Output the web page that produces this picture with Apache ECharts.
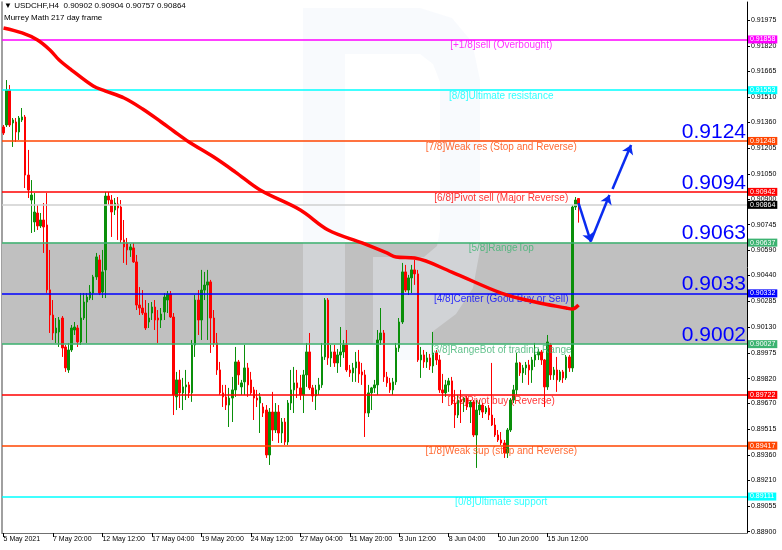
<!DOCTYPE html>
<html><head><meta charset="utf-8">
<script src="https://cdn.jsdelivr.net/npm/echarts@6/dist/echarts.min.js"></script>
<style>html,body{margin:0;padding:0;background:#fff}#c{width:782px;height:550px}</style>
</head><body><div id="c"></div><script>
const symbolName = 'USDCHF,H4';
const subTitle = 'Murrey Math 217 day frame';
const slotCount = 241;      // bars + empty future space
const tickEvery = 16;
const xTickLabels = ['5 May 2021','7 May 20:00','12 May 12:00','17 May 04:00','19 May 20:00','24 May 12:00','27 May 04:00','31 May 20:00','3 Jun 12:00','8 Jun 04:00','10 Jun 20:00','15 Jun 12:00'];
const yTickValues = [0.91975,0.91820,0.91665,0.91510,0.91360,0.91205,0.91050,0.90900,0.90745,0.90590,0.90440,0.90285,0.90130,0.89975,0.89820,0.89670,0.89515,0.89360,0.89210,0.89055,0.88900];
const yMin = 0.88892, yMax = 0.92083;

// [open, close, low, high]
const candles = [
[0.91332,0.91296,0.91284,0.91344],[0.91344,0.91554,0.91332,0.91614],[0.91554,0.91344,0.91332,0.91584],[0.91356,0.91374,0.91212,0.91386],
[0.91362,0.91302,0.91242,0.91386],[0.91302,0.91386,0.91254,0.91398],[0.91374,0.91392,0.91362,0.91446],[0.91392,0.91043,0.90965,0.91404],
[0.91043,0.90953,0.90905,0.91194],[0.90893,0.90923,0.90695,0.91013],[0.90761,0.90821,0.90701,0.90935],[0.90815,0.90737,0.90713,0.90863],
[0.90737,0.90773,0.90725,0.90815],[0.90773,0.90731,0.90575,0.90875],[0.90743,0.90353,0.90335,0.90935],[0.90353,0.90202,0.90094,0.90593],
[0.90202,0.90094,0.90052,0.90292],[0.90094,0.90124,0.90034,0.90184],[0.90100,0.90172,0.90010,0.90190],[0.90184,0.90004,0.89950,0.90196],
[0.90010,0.89884,0.89860,0.90022],[0.89872,0.89992,0.89854,0.90034],[0.89992,0.90124,0.89980,0.90142],[0.90112,0.90130,0.90082,0.90160],
[0.90124,0.90040,0.90010,0.90142],[0.90040,0.90184,0.90022,0.90334],[0.90184,0.90280,0.90172,0.90334],[0.90280,0.90310,0.90034,0.90334],
[0.90304,0.90340,0.90292,0.90382],[0.90334,0.90431,0.90292,0.90443],[0.90431,0.90551,0.90413,0.90575],[0.90533,0.90334,0.90322,0.90563],
[0.90340,0.90461,0.90304,0.90593],[0.90473,0.90917,0.90304,0.90941],[0.90917,0.90893,0.90863,0.90941],[0.90893,0.90821,0.90671,0.90923],
[0.90833,0.90875,0.90803,0.90905],[0.90869,0.90845,0.90653,0.90911],[0.90851,0.90653,0.90635,0.90893],[0.90653,0.90611,0.90515,0.90773],
[0.90635,0.90593,0.90503,0.90665],[0.90593,0.90611,0.90551,0.90629],[0.90605,0.90521,0.90515,0.90635],[0.90521,0.90262,0.90232,0.90563],
[0.90262,0.90244,0.90202,0.90370],[0.90244,0.90214,0.90202,0.90352],[0.90214,0.90124,0.90112,0.90292],[0.90160,0.90184,0.90124,0.90274],
[0.90214,0.90250,0.90172,0.90280],[0.90250,0.90172,0.90112,0.90292],[0.90184,0.90172,0.90034,0.90232],[0.90172,0.90208,0.90124,0.90244],
[0.90220,0.90310,0.90172,0.90334],[0.90292,0.90328,0.90214,0.90346],[0.90328,0.90190,0.90184,0.90346],[0.90190,0.89722,0.89601,0.90214],
[0.89710,0.89812,0.89631,0.89860],[0.89812,0.89734,0.89643,0.89872],[0.89734,0.89770,0.89631,0.89824],[0.89770,0.89782,0.89691,0.89872],
[0.89782,0.89734,0.89703,0.89800],[0.89734,0.90022,0.89680,0.90052],[0.90022,0.90292,0.89950,0.90322],[0.90292,0.90172,0.90082,0.90352],
[0.90172,0.90352,0.90052,0.90473],[0.90352,0.90382,0.90292,0.90461],[0.90382,0.90401,0.90052,0.90473],[0.90401,0.90184,0.89974,0.90413],
[0.90184,0.90034,0.90010,0.90232],[0.90034,0.89872,0.89842,0.90094],[0.89872,0.89734,0.89722,0.89920],[0.89734,0.89710,0.89649,0.89782],
[0.89710,0.89661,0.89631,0.89782],[0.89661,0.89703,0.89529,0.89764],[0.89703,0.89752,0.89559,0.89830],[0.89752,0.89920,0.89710,0.90010],
[0.89920,0.89842,0.89782,0.89932],[0.89770,0.89794,0.89722,0.89812],[0.89800,0.89884,0.89722,0.90022],[0.89884,0.89782,0.89710,0.89914],
[0.89812,0.89734,0.89722,0.89860],[0.89752,0.89703,0.89571,0.89770],[0.89703,0.89691,0.89649,0.89752],[0.89673,0.89710,0.89493,0.89734],
[0.89649,0.89613,0.89589,0.89673],[0.89631,0.89361,0.89343,0.89661],[0.89361,0.89619,0.89301,0.89643],[0.89619,0.89511,0.89445,0.89740],
[0.89511,0.89619,0.89493,0.89673],[0.89619,0.89493,0.89433,0.89661],[0.89493,0.89559,0.89433,0.89583],[0.89559,0.89439,0.89421,0.89583],
[0.89439,0.89673,0.89421,0.89691],[0.89673,0.89752,0.89631,0.89872],[0.89752,0.89794,0.89613,0.89890],[0.89794,0.89764,0.89703,0.89872],
[0.89764,0.89722,0.89691,0.89842],[0.89722,0.89842,0.89613,0.89872],[0.89842,0.89980,0.89770,0.90034],[0.89980,0.89764,0.89752,0.90094],
[0.89764,0.89716,0.89680,0.89782],[0.89716,0.89752,0.89631,0.89782],[0.89752,0.89782,0.89722,0.89824],[0.89782,0.89950,0.89764,0.90034],
[0.89950,0.90292,0.89932,0.90304],[0.90292,0.89944,0.89902,0.90304],[0.89944,0.89980,0.89890,0.90022],[0.89980,0.89914,0.89890,0.90022],
[0.89914,0.89962,0.89854,0.89998],[0.89962,0.89980,0.89890,0.90130],[0.89980,0.90022,0.89944,0.90052],[0.90022,0.89872,0.89860,0.90112],
[0.89872,0.89854,0.89830,0.89902],[0.89854,0.89884,0.89800,0.89914],[0.89884,0.89920,0.89800,0.89980],[0.89920,0.89848,0.89794,0.89992],
[0.89860,0.89842,0.89782,0.89914],[0.89842,0.89613,0.89469,0.89872],[0.89613,0.89734,0.89589,0.89782],[0.89734,0.89764,0.89631,0.89770],
[0.89764,0.89782,0.89734,0.89812],[0.89782,0.90052,0.89722,0.90112],[0.90052,0.90094,0.90022,0.90244],[0.90094,0.89830,0.89800,0.90112],
[0.89830,0.89794,0.89770,0.89860],[0.89794,0.89752,0.89734,0.89824],[0.89752,0.89800,0.89722,0.89824],[0.89800,0.90004,0.89782,0.90034],
[0.90004,0.90160,0.89980,0.90184],[0.90160,0.90461,0.90148,0.90515],[0.90461,0.90352,0.90340,0.90503],[0.90352,0.90425,0.90322,0.90443],
[0.90425,0.90473,0.90334,0.90503],[0.90473,0.90449,0.90383,0.90533],[0.90449,0.89932,0.89920,0.90473],[0.89932,0.89962,0.89824,0.90010],
[0.89962,0.89920,0.89884,0.89992],[0.89920,0.89944,0.89884,0.89980],[0.89944,0.89896,0.89872,0.89968],[0.89896,0.89974,0.89854,0.90100],
[0.89974,0.89932,0.89902,0.89992],[0.89932,0.89752,0.89734,0.89962],[0.89752,0.89734,0.89673,0.89848],[0.89734,0.89782,0.89710,0.89812],
[0.89782,0.89806,0.89740,0.89824],[0.89806,0.89673,0.89661,0.89830],[0.89673,0.89601,0.89523,0.89752],[0.89601,0.89691,0.89583,0.89722],
[0.89691,0.89679,0.89553,0.89752],[0.89679,0.89703,0.89619,0.89710],[0.89703,0.89649,0.89631,0.89715],[0.89649,0.89679,0.89553,0.89691],
[0.89679,0.89481,0.89469,0.89691],[0.89481,0.89631,0.89283,0.89691],[0.89631,0.89661,0.89601,0.89691],[0.89661,0.89619,0.89583,0.89673],
[0.89619,0.89643,0.89607,0.89655],[0.89643,0.89601,0.89571,0.89661],[0.89601,0.89541,0.89535,0.89914],[0.89541,0.89481,0.89469,0.89583],
[0.89481,0.89451,0.89439,0.89511],[0.89451,0.89433,0.89421,0.89499],[0.89433,0.89373,0.89343,0.89451],[0.89373,0.89511,0.89343,0.89523],
[0.89511,0.89691,0.89499,0.89703],[0.89691,0.89752,0.89673,0.89782],[0.89752,0.89914,0.89722,0.89974],[0.89914,0.89854,0.89836,0.89920],
[0.89854,0.89884,0.89794,0.89902],[0.89884,0.89902,0.89842,0.89920],[0.89902,0.89872,0.89782,0.89932],[0.89872,0.89932,0.89794,0.89950],
[0.89932,0.89962,0.89890,0.90034],[0.89962,0.89980,0.89932,0.89998],[0.89980,0.89932,0.89902,0.89992],[0.89932,0.89770,0.89649,0.89938],
[0.89770,0.90040,0.89752,0.90082],[0.90022,0.89842,0.89812,0.90034],[0.89842,0.89872,0.89812,0.89890],[0.89872,0.89812,0.89740,0.89950],
[0.89812,0.89860,0.89800,0.89872],[0.89860,0.89824,0.89794,0.89872],[0.89824,0.89950,0.89812,0.89962],[0.89950,0.89884,0.89860,0.89962],
[0.89884,0.90851,0.89860,0.90863],[0.90851,0.90893,0.90833,0.90911],[0.90902,0.90864,0.90757,0.90904]
];

// moving average trace: [bar index, price]
const maPoints = [[0,0.91927],[6,0.91897],[11,0.91855],[15,0.91795],[18,0.91734],[22,0.91674],[29,0.91578],[33,0.91548],[39,0.91506],[45,0.91440],[51,0.91362],[55,0.91308],[60,0.91242],[68,0.91151],[75,0.91061],[83,0.90953],[96,0.90833],[105,0.90713],[116,0.90635],[124,0.90575],[127,0.90550],[133,0.90544],[145,0.90460],[161,0.90334],[172,0.90280],[182,0.90244],[184,0.90238],[186,0.90262]];

const levelValues = [0.91858,0.91553,0.91248,0.90942,0.90637,0.90332,0.90027,0.89722,0.89417,0.89111];
const levelNames = ['[+1/8]sell (Overbought)','[8/8]Ultimate resistance','[7/8]Weak res (Stop and Reverse)','[6/8]Pivot sell (Major Reverse)','[5/8]RangeTop','[4/8]Center (Good Buy or Sell)','[3/8]RangeBot of trading Range','[2/8]Pivot buy (Reverse)','[1/8]Weak sup (stop and Reverse)','[0/8]Ultimate support'];
const levelColors = ['#ff00ff','#00ffff','#ff4500','#ff0000','#3cb371','#0000ff','#3cb371','#ff0000','#ff4500','#00ffff'];
const levelLabelBar = 161;
const currentPrice = 0.90864;
const bandRange = [0.90027, 0.90637];
const bigLevels = [0.91248,0.90942,0.90637,0.90332,0.90027];
const bigTexts = ['0.9124','0.9094','0.9063','0.9033','0.9002'];
const arrowSegments = [[[186,0.90875],[190,0.90641]],[[190,0.90647],[196,0.90923]],[[197,0.90959],[203,0.91224]]];

const FONT = '"Liberation Sans", Arial, sans-serif';
const categories = Array.from({length: slotCount}, (_, i) => String(i));
const showTick = (i) => i % tickEvery === 0 && i / tickEvery < xTickLabels.length;
const last = candles[candles.length - 1];

const tagLines = levelValues.map((v, k) => ({
  yAxis: v,
  lineStyle: {color: levelColors[k], width: 1.5, type: 'solid'},
  label: {backgroundColor: levelColors[k]}
}));
tagLines.splice(4, 0, {yAxis: currentPrice, lineStyle: {color: '#cfcfcf', width: 1.5, type: 'solid'}, label: {backgroundColor: '#000'}});

// faint broker watermark (decoration only)
const wmFill = 'rgba(236,241,250,0.38)';
const watermark = [
  {type: 'rect', z: 1.5, silent: true, shape: {x: 303, y: 8, width: 42, height: 352}, style: {fill: wmFill}},
  {type: 'polygon', z: 1.5, silent: true, shape: {points: [[345,8],[420,8],[452,18],[472,42],[480,80],[480,250],[473,288],[456,314],[432,332],[432,360],[373,360],[373,257],[424,257],[437,246],[440,230],[440,82],[433,64],[420,54],[345,54]]}, style: {fill: wmFill}}
];

const chart = echarts.init(document.getElementById('c'), null, {renderer: 'canvas'});
chart.setOption({
  animation: false,
  backgroundColor: '#ffffff',
  grid: {left: 2, right: 35, top: 2, bottom: 17},
  graphic: [
    ...watermark,
    {type: 'text', left: 4, top: 2, style: {text: '\u25BC ' + symbolName + '  ' + last[0].toFixed(5) + ' ' + last[3].toFixed(5) + ' ' + last[2].toFixed(5) + ' ' + last[1].toFixed(5), font: '8px ' + FONT, fill: '#000'}},
    {type: 'text', left: 4, top: 14, style: {text: subTitle, font: '8px ' + FONT, fill: '#000'}}
  ],
  xAxis: {
    type: 'category', data: categories, boundaryGap: true,
    axisLine: {show: true, lineStyle: {color: '#707070', width: 1}},
    axisTick: {show: true, interval: showTick, length: 4, alignWithLabel: true, lineStyle: {color: '#000'}},
    axisLabel: {interval: showTick, formatter: (v, i) => xTickLabels[i / tickEvery], align: 'left', fontSize: 7, fontFamily: FONT, color: '#000', margin: 3},
    splitLine: {show: false}
  },
  yAxis: [{
    type: 'value', position: 'right', min: yMin, max: yMax, scale: true,
    axisLine: {show: true, lineStyle: {color: '#000', width: 1}},
    axisTick: {show: true, customValues: yTickValues, length: 3, lineStyle: {color: '#000'}},
    axisLabel: {customValues: yTickValues, formatter: v => v.toFixed(5), fontSize: 7, fontFamily: FONT, color: '#000', margin: 4},
    splitLine: {show: false}
  }, {
    type: 'value', position: 'left', min: yMin, max: yMax, scale: true,
    axisLine: {show: true, lineStyle: {color: '#808080', width: 1.5}},
    axisTick: {show: false}, axisLabel: {show: false}, splitLine: {show: false}
  }],
  series: [
    {
      type: 'candlestick', name: 'USDCHF', data: candles, barWidth: 2,
      itemStyle: {color: '#0a8f0a', color0: '#ff0000', borderColor: '#0a8f0a', borderColor0: '#ff0000', borderWidth: 1},
      markArea: {silent: true, z: 1, itemStyle: {color: '#c0c0c0'}, data: [[{yAxis: bandRange[0]}, {yAxis: bandRange[1]}]]},
      markLine: {
        silent: true, symbol: ['none', 'none'], animation: false, precision: 5,
        label: {show: true, position: 'end', distance: 1, formatter: p => Number(p.value).toFixed(5), color: '#fff', fontSize: 7, fontFamily: FONT, padding: [1, 2, 0, 2]},
        data: tagLines
      }
    },
    {
      type: 'scatter', name: 'levels', symbolSize: 0, z: 6, silent: true,
      data: levelValues.map((v, k) => ({value: [levelLabelBar, v], label: {color: levelColors[k]}})),
      label: {show: true, position: 'bottom', distance: 1, fontSize: 10, fontFamily: FONT, formatter: p => levelNames[p.dataIndex]}
    },
    {
      type: 'line', name: 'MA', data: maPoints, smooth: 0.35, showSymbol: false, z: 7, silent: true,
      lineStyle: {color: '#ff0000', width: 3.5}
    },
    {
      type: 'line', name: 'bigLevels', data: [], silent: true, z: 6,
      markLine: {
        silent: true, symbol: ['none', 'none'], animation: false, precision: 5,
        lineStyle: {color: 'rgba(0,0,0,0)', width: 1, type: 'solid'},
        label: {show: true, position: 'insideEndTop', distance: 1, fontSize: 21, lineHeight: 16, fontFamily: FONT, color: '#0000ff',
          formatter: p => bigTexts[bigLevels.findIndex(v => Math.abs(v - Number(p.value)) < 1e-6)]},
        data: bigLevels.map(v => ({yAxis: v}))
      }
    },
    {
      type: 'line', name: 'arrows', data: [], silent: true, z: 8,
      markLine: {
        silent: true, symbol: ['none', 'arrow'], symbolSize: 9, animation: false, precision: 5,
        lineStyle: {color: '#0a2cf0', width: 2.5, type: 'solid'},
        label: {show: false},
        data: arrowSegments.map(s => [{coord: s[0]}, {coord: s[1]}])
      }
    }
  ]
});
</script></body></html>
